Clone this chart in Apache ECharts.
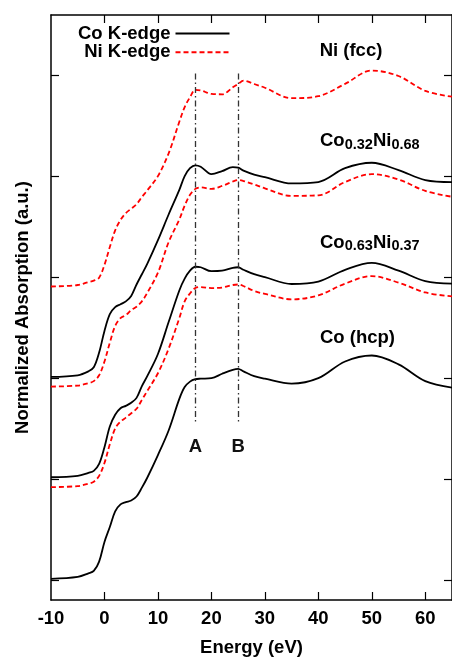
<!DOCTYPE html>
<html>
<head>
<meta charset="utf-8">
<script src="https://cdn.jsdelivr.net/npm/echarts@6/dist/echarts.min.js"></script>
<style>
  html, body { margin: 0; padding: 0; background: #fff; }
  #chart { width: 452px; height: 662px; }
</style>
</head>
<body>
<div id="chart"></div>
<script>
// Energy grid (eV, relative to the edge) shared by all spectra
const energy = [-10, -5, -3, -2, -1, 0, 1, 2, 3, 4, 5, 6, 7, 8,
  10, 12, 14, 15, 16, 17, 18, 20, 22, 24, 25, 26, 28, 30,
  35, 40, 45, 50, 55, 60, 65];

// Normalized absorption, vertically stacked
const coHcp = [0.010, 0.029, 0.064, 0.088, 0.181, 0.376, 0.523, 0.679, 0.748, 0.770, 0.787, 0.826, 0.914, 1.012,
  1.237, 1.481, 1.794, 1.911, 1.965, 1.989, 1.994, 1.999, 2.043, 2.082, 2.092, 2.067, 2.019, 1.994,
  1.945, 1.999, 2.165, 2.224, 2.136, 1.970, 1.906];
const co63CoEdge = [1.017, 1.031, 1.061, 1.080, 1.149, 1.315, 1.520, 1.637, 1.701, 1.725, 1.755, 1.804, 1.921, 2.019,
  2.239, 2.556, 2.869, 2.986, 3.065, 3.104, 3.099, 3.060, 3.065, 3.094, 3.099, 3.074, 3.030, 3.001,
  2.933, 2.957, 3.074, 3.143, 3.065, 2.962, 2.937];
const co63NiEdge = [0.919, 0.929, 0.953, 0.973, 1.031, 1.158, 1.344, 1.500, 1.569, 1.608, 1.652, 1.696, 1.784, 1.872,
  2.048, 2.292, 2.595, 2.761, 2.840, 2.893, 2.903, 2.893, 2.898, 2.923, 2.928, 2.913, 2.864, 2.835,
  2.781, 2.820, 2.937, 3.011, 2.947, 2.849, 2.810];
const co32CoEdge = [2.012, 2.028, 2.067, 2.107, 2.253, 2.468, 2.634, 2.703, 2.732, 2.761, 2.815, 2.928, 3.030, 3.133,
  3.368, 3.622, 3.866, 4.003, 4.081, 4.110, 4.096, 4.022, 4.052, 4.091, 4.086, 4.057, 4.018, 3.993,
  3.930, 3.944, 4.081, 4.135, 4.062, 3.964, 3.944];
const co32NiEdge = [1.916, 1.926, 1.950, 1.970, 2.028, 2.165, 2.351, 2.517, 2.595, 2.625, 2.674, 2.708, 2.761, 2.845,
  3.045, 3.348, 3.573, 3.710, 3.817, 3.876, 3.891, 3.876, 3.905, 3.949, 3.964, 3.954, 3.920, 3.881,
  3.807, 3.812, 3.944, 4.022, 3.969, 3.856, 3.798];
const niFcc = [2.908, 2.923, 2.952, 2.967, 2.996, 3.123, 3.299, 3.465, 3.568, 3.636, 3.680, 3.724, 3.795, 3.861,
  4.003, 4.228, 4.541, 4.687, 4.785, 4.858, 4.853, 4.818, 4.814, 4.883, 4.915, 4.949, 4.916, 4.879,
  4.775, 4.795, 4.917, 5.049, 4.995, 4.848, 4.790];

// Axis ticks
const xTickLabels = [-10, 0, 10, 20, 30, 40, 50, 60];
const xTickMarks = [0, 10, 20, 30, 40, 50, 60];
const yTickMarks = [0, 1, 2, 3, 4, 5];

// Reference features A and B
const featureEnergies = [17, 25];
const featureNames = ['A', 'B'];

const FONT = '"Liberation Sans", Arial, Helvetica, sans-serif';
const FS = 18.5;
const toPairs = v => energy.map((e, i) => [e, v[i]]);

function spectrum(name, values, color, dashed) {
  return {
    name: name,
    type: 'line',
    data: toPairs(values),
    showSymbol: false,
    symbol: 'none',
    smooth: 0.35,
    lineStyle: { color: color, width: 1.8, type: dashed ? [5, 3] : 'solid' },
    itemStyle: { color: color },
    z: 3
  };
}

const frameLine = { show: true, onZero: false, lineStyle: { color: '#000', width: 1.5 } };
const tickStyle = { color: '#000', width: 1.2 };

const series = [
  spectrum('Co K-edge', coHcp, '#000', false),
  spectrum('Co K-edge', co63CoEdge, '#000', false),
  spectrum('Ni K-edge', co63NiEdge, '#ff0000', true),
  spectrum('Co K-edge', co32CoEdge, '#000', false),
  spectrum('Ni K-edge', co32NiEdge, '#ff0000', true),
  spectrum('Ni K-edge', niFcc, '#ff0000', true)
];

// dash-dot guides through features A and B
series[0].markLine = {
  silent: true,
  symbol: ['none', 'none'],
  animation: false,
  lineStyle: { color: '#333', width: 1.3, type: [6, 3, 1.5, 3] },
  label: {
    show: true, position: 'end', distance: 14, formatter: '{b}',
    color: '#111', fontSize: FS, fontWeight: 'bold', fontFamily: FONT
  },
  data: featureEnergies.map((e, i) => [
    { name: featureNames[i], coord: [e, 5.02] },
    { coord: [e, 1.55] }
  ])
};

const labelStyle = { fontSize: FS, fontWeight: 'bold', fontFamily: FONT, fill: '#000' };
const rich = {
  m: { fontSize: FS, fontWeight: 'bold', fontFamily: FONT, color: '#000', lineHeight: 22 },
  s: { fontSize: 14.5, fontWeight: 'bold', fontFamily: FONT, color: '#000', lineHeight: 14, verticalAlign: 'bottom' }
};

const chart = echarts.init(document.getElementById('chart'), null, { renderer: 'canvas' });
chart.setOption({
  animation: false,
  backgroundColor: '#fff',
  grid: { left: 51, top: 15, right: -1.5, bottom: 53.7, containLabel: false },
  legend: {
    data: ['Co K-edge', 'Ni K-edge'],
    orient: 'vertical',
    left: 78,
    top: 24,
    padding: 0,
    align: 'right',
    itemWidth: 54,
    itemHeight: 14,
    itemGap: -0.3,
    selectedMode: false,
    itemStyle: { opacity: 0, borderWidth: 0 },
    textStyle: { fontSize: FS, fontWeight: 'bold', fontFamily: FONT, color: '#000' }
  },
  xAxis: [
    {
      type: 'value', position: 'bottom', min: -10, max: 65,
      axisLine: frameLine,
      axisTick: { show: true, inside: true, length: 8, customValues: xTickMarks, lineStyle: tickStyle },
      axisLabel: { customValues: xTickLabels, margin: 9, color: '#000', fontSize: FS, fontWeight: 'bold', fontFamily: FONT },
      splitLine: { show: false },
      name: 'Energy (eV)', nameLocation: 'middle', nameGap: 38,
      nameTextStyle: { color: '#000', fontSize: FS, fontWeight: 'bold', fontFamily: FONT }
    },
    {
      type: 'value', position: 'top', min: -10, max: 65,
      axisLine: frameLine,
      axisTick: { show: true, inside: true, length: 8, customValues: xTickMarks, lineStyle: tickStyle },
      axisLabel: { show: false },
      splitLine: { show: false }
    }
  ],
  yAxis: [
    {
      type: 'value', position: 'left', min: -0.2, max: 5.6,
      axisLine: frameLine,
      axisTick: { show: true, inside: true, length: 8, customValues: yTickMarks, lineStyle: tickStyle },
      axisLabel: { show: false },
      splitLine: { show: false },
      name: 'Normalized Absorption (a.u.)', nameLocation: 'middle', nameGap: 19,
      nameTextStyle: { color: '#000', fontSize: FS, fontWeight: 'bold', fontFamily: FONT }
    },
    {
      type: 'value', position: 'right', min: -0.2, max: 5.6,
      axisLine: frameLine,
      axisTick: { show: true, inside: true, length: 8, customValues: yTickMarks, lineStyle: tickStyle },
      axisLabel: { show: false },
      splitLine: { show: false }
    }
  ],
  graphic: [
    { type: 'text', silent: true, style: Object.assign({ x: 351, y: 51, text: 'Ni (fcc)', align: 'center', verticalAlign: 'middle' }, labelStyle) },
    { type: 'text', silent: true, style: { x: 320, y: 141, text: '{m|Co}{s|0.32}{m|Ni}{s|0.68}', rich: rich, align: 'left', verticalAlign: 'middle' } },
    { type: 'text', silent: true, style: { x: 320, y: 242.5, text: '{m|Co}{s|0.63}{m|Ni}{s|0.37}', rich: rich, align: 'left', verticalAlign: 'middle' } },
    { type: 'text', silent: true, style: Object.assign({ x: 320, y: 337.5, text: 'Co (hcp)', align: 'left', verticalAlign: 'middle' }, labelStyle) }
  ],
  series: series
});
</script>
</body>
</html>
